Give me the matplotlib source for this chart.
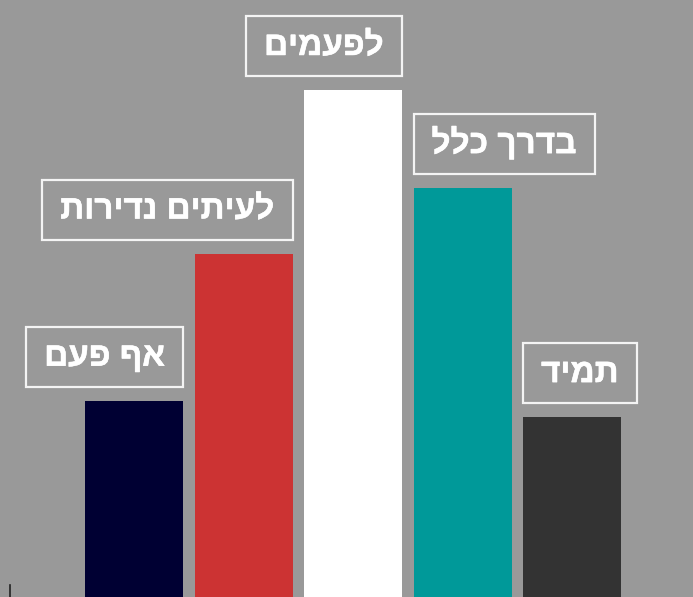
import matplotlib.pyplot as plt
import matplotlib.patheffects as pe
from matplotlib.lines import Line2D
from matplotlib.patches import Rectangle

# =====================================
# DATA
# =====================================

labels = ["אף פעם", "לעיתים נדירות", "לפעמים", "בדרך כלל", "תמיד"]
values = [12, 21, 31, 25, 11]
colors = ["#000033", "#cc3333", "#ffffff", "#009999", "#333333"]
# which side of the bar the label box lines up with
align = ["right", "right", "right", "left", "left"]

BG = "#999999"
BAR_W = 0.895
FS = 24

# label box geometry, pixels
PADX = 18
GAP = 14
BOX_H = 60
BASE = 21   # baseline above box bottom

W, H = 693, 597

# =====================================
# PLOT
# =====================================

fig = plt.figure(figsize=(W / 100, H / 100), dpi=100)
fig.patch.set_facecolor(BG)
ax = fig.add_axes([0, 0, 1, 1])
ax.set_facecolor(BG)

x = list(range(len(values)))
ax.bar(x, values, width=BAR_W, color=colors, edgecolor="none")

ax.set_xlim(-1.224, 5.105)
ax.set_ylim(0, 36.5)
ax.axis("off")

texts = []
for i, (lab, v, side) in enumerate(zip(labels, values, align)):
    if side == "right":
        xe, dx = i + BAR_W / 2, -PADX
    else:
        xe, dx = i - BAR_W / 2, PADX
    # matplotlib has no bidi layout, so hebrew goes in reversed
    t = ax.annotate(lab[::-1], xy=(xe, v), xytext=(dx * 0.72, (GAP + BASE) * 0.72),
                    textcoords="offset points", ha=side, va="baseline",
                    fontsize=FS, fontweight="bold", color="white",
                    family=["Liberation Sans", "DejaVu Sans"],
                    path_effects=[pe.withStroke(linewidth=0.4, foreground="white")])
    texts.append((t, xe, v))

# white frames around the labels
fig.canvas.draw()
r = fig.canvas.get_renderer()
for t, xe, v in texts:
    bb = t.get_window_extent(r)
    _, ytop = ax.transData.transform((xe, v))
    x0 = bb.x0 - PADX
    x1 = bb.x1 + PADX
    y0 = ytop + GAP
    fig.add_artist(Rectangle((x0 / W, y0 / H), (x1 - x0) / W, BOX_H / H,
                             transform=fig.transFigure, facecolor="none",
                             edgecolor="#f4f4f4", linewidth=1.6))

# small tick left at the bottom edge
fig.add_artist(Line2D([10 / W, 10 / W], [0, 12 / H], color="#222222", lw=1.2))

fig.savefig("out.png", dpi=100, facecolor=BG)
